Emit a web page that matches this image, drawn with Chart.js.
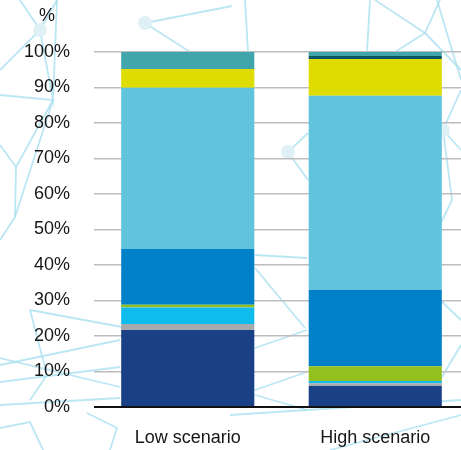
<!DOCTYPE html>
<html lang="en">
  <head>
    <meta charset="UTF-8" />
    <title>Scenarios</title>
    <style>
      html, body { margin: 0; padding: 0; background: #fff; overflow: hidden; }
      #wrap { position: relative; width: 469px; height: 450px; }
    </style>
  </head>
  <body>
    <div id="wrap"><canvas id="my-chart"></canvas></div>

    <script src="https://cdn.jsdelivr.net/npm/chart.js"></script>
    <script>
      const categories = ["Low scenario", "High scenario"];

      // shares in %, listed from the bottom of each stack upward
      const navy = [21.7, 5.9];
      const grey = [1.7, 0.8];
      const cyan = [4.6, 0.6];
      const green = [0.8, 4.2];
      const blue = [15.7, 21.5];
      const sky = [45.4, 54.7];
      const yellow = [5.3, 10.3];
      const darkTeal = [0, 0.9];
      const teal = [4.8, 1.1];

      const yTicks = [0, 10, 20, 30, 40, 50, 60, 70, 80, 90, 100];

      const FONT = "'Liberation Sans', Arial, sans-serif";
      const TEXT = "#161616";

      const series = [
        { label: "Segment 1", data: navy, color: "#1a4185" },
        { label: "Segment 2", data: grey, color: "#a8aaad" },
        { label: "Segment 3", data: cyan, color: "#10bbee" },
        { label: "Segment 4", data: green, color: "#93c01f" },
        { label: "Segment 5", data: blue, color: "#0080c6" },
        { label: "Segment 6", data: sky, color: "#62c3dd" },
        { label: "Segment 7", data: yellow, color: "#dedc00" },
        { label: "Segment 8", data: darkTeal, color: "#0b5560" },
        { label: "Segment 9", data: teal, color: "#40a6ab" },
      ];

      // faint network pattern behind the plot
      const netLines = [
        [[0, 70], [40, 30], [20, 0]],
        [[40, 30], [57, 0]],
        [[40, 30], [53, 100], [57, 0]],
        [[0, 95], [53, 100], [16, 167], [15, 217], [0, 240]],
        [[53, 100], [15, 217]],
        [[0, 145], [16, 167]],
        [[145, 23], [232, 6]],
        [[145, 23], [190, 52]],
        [[245, 0], [248, 52]],
        [[370, 0], [367, 52]],
        [[375, 0], [425, 33], [395, 52]],
        [[425, 33], [440, 0]],
        [[425, 33], [461, 70]],
        [[437, 0], [461, 80]],
        [[308, 133], [288, 152], [308, 180]],
        [[461, 90], [443, 130], [452, 200], [440, 225]],
        [[443, 130], [461, 150]],
        [[30, 310], [47, 375], [30, 400]],
        [[30, 310], [122, 327]],
        [[0, 358], [120, 387]],
        [[0, 365], [120, 340]],
        [[0, 382], [120, 367]],
        [[0, 405], [120, 398]],
        [[0, 428], [30, 422], [43, 450]],
        [[87, 413], [117, 428], [110, 450]],
        [[255, 255], [307, 258]],
        [[255, 268], [305, 328]],
        [[255, 348], [307, 330]],
        [[255, 390], [307, 372]],
        [[255, 395], [307, 410]],
        [[230, 415], [461, 400]],
        [[330, 450], [461, 415]],
        [[440, 380], [461, 345]],
        [[440, 300], [461, 320]],
      ];
      const netNodes = [[40, 30], [145, 23], [288, 152], [443, 130]];

      const networkBg = {
        id: "networkBg",
        beforeDraw(chart) {
          const ctx = chart.ctx;
          ctx.save();
          ctx.strokeStyle = "rgba(170, 224, 240, 0.8)";
          ctx.lineWidth = 1.8;
          netLines.forEach((pts) => {
            ctx.beginPath();
            pts.forEach(([x, y], i) => (i ? ctx.lineTo(x, y) : ctx.moveTo(x, y)));
            ctx.stroke();
          });
          ctx.fillStyle = "rgba(222, 240, 246, 0.95)";
          netNodes.forEach(([x, y]) => {
            ctx.beginPath();
            ctx.arc(x, y, 7, 0, Math.PI * 2);
            ctx.fill();
          });
          ctx.restore();
        },
      };

      // "%" unit label above the y axis
      const unitLabel = {
        id: "unitLabel",
        afterDraw(chart) {
          const ctx = chart.ctx;
          const yScale = chart.scales.y;
          ctx.save();
          ctx.font = "18px " + FONT;
          ctx.fillStyle = TEXT;
          ctx.textAlign = "center";
          ctx.textBaseline = "middle";
          ctx.fillText("%", yScale.left + 47, yScale.top - 36);
          ctx.restore();
        },
      };

      new Chart(document.getElementById("my-chart"), {
        type: "bar",
        data: {
          labels: categories,
          datasets: series.map((s) => ({
            label: s.label,
            data: s.data,
            backgroundColor: s.color,
            borderWidth: 0,
            barPercentage: 0.71,
            categoryPercentage: 1,
          })),
        },
        options: {
          responsive: true,
          maintainAspectRatio: false,
          animation: false,
          layout: { padding: { top: 52, right: 0, bottom: 0, left: 0 } },
          plugins: {
            legend: { display: false },
            tooltip: { enabled: false },
          },
          scales: {
            x: {
              stacked: true,
              grid: { display: false },
              border: { display: false },
              ticks: {
                color: TEXT,
                padding: 12,
                font: { family: FONT, size: 18 },
              },
              afterFit(scale) {
                scale.height = 43;
              },
            },
            y: {
              stacked: true,
              min: 0,
              max: 100,
              afterBuildTicks(scale) {
                scale.ticks = yTicks.map((v) => ({ value: v }));
              },
              grid: {
                color: (c) => (c.tick && c.tick.value === 0 ? "#111" : "#bdbdbd"),
                lineWidth: (c) => (c.tick && c.tick.value === 0 ? 2 : 1.5),
                drawTicks: false,
              },
              border: { display: false },
              ticks: {
                color: TEXT,
                padding: 24,
                font: { family: FONT, size: 18 },
                callback: (v) => v + "%",
              },
              afterFit(scale) {
                scale.width = 94;
              },
            },
          },
        },
        plugins: [networkBg, unitLabel],
      });
    </script>
  </body>
</html>
